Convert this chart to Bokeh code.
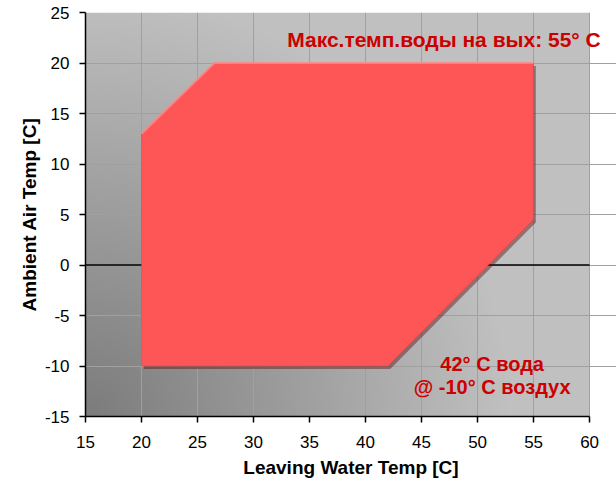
import numpy as np
from bokeh.plotting import figure
from bokeh.models import Label, Range1d, FixedTicker
from bokeh.embed import file_html
from bokeh.resources import INLINE

# ---- data ----
x_min, x_max = 15, 60
y_min, y_max = -15, 25
x_ticks = [15, 20, 25, 30, 35, 40, 45, 50, 55, 60]
y_ticks = [-15, -10, -5, 0, 5, 10, 15, 20, 25]

# operating envelope (leaving water temp, ambient air temp)
env_x = [20, 20, 26.5, 55, 55, 42]
env_y = [-10, 13, 20, 20, 4.5, -10]

x_label = "Leaving Water Temp [C]"
y_label = "Ambient Air Temp [C]"
note_top = "Макс.темп.воды на вых: 55° C"
note_bottom_1 = "42° C вода"
note_bottom_2 = "@ -10° C воздух"

FONT = "Liberation Sans"
RED = "#cc0000"

# extra room right of x=60 so the top note is not clipped by the frame
x_view_max = x_max + 2.4

p = figure(width=616, height=486, output_backend="svg", toolbar_location=None,
           x_range=Range1d(x_min, x_view_max), y_range=Range1d(y_min, y_max),
           min_border_left=85, min_border_right=0, min_border_top=12,
           min_border_bottom=70)
p.background_fill_color = "white"
p.border_fill_color = "white"
p.outline_line_color = None

# gradient background (radial, dark at bottom-left corner)
W, H = 504, 404
yy, xx = np.mgrid[0:H, 0:W]
r = np.sqrt(xx.astype(float) ** 2 + yy.astype(float) ** 2)
t = np.clip(r / 420.0, 0, 1)
g = (124 + (192 - 124) * t).astype(np.uint32)
img = ((255 << 24) | (g << 16) | (g << 8) | g).astype(np.uint32)
bg = p.image_rgba(image=[img], x=x_min, y=y_min, dw=x_max - x_min, dh=y_max - y_min)
bg.level = "image"

# grid
p.xgrid.ticker = FixedTicker(ticks=x_ticks)
p.ygrid.ticker = FixedTicker(ticks=y_ticks)
p.grid.grid_line_color = "#a0a0a0"
p.grid.grid_line_width = 1
p.xgrid.bounds = (y_min, y_max)
p.ygrid.bounds = (x_min, x_max)

# zero line (under envelope)
p.line([x_min, x_max], [0, 0], line_color="black", line_width=1.6)

# envelope shadow, fill, highlight
p.patch([v + 0.2 for v in env_x], [v - 0.3 for v in env_y],
        fill_color="#5a1010", fill_alpha=0.45, line_color=None)
p.patch(env_x, env_y, fill_color="#fe5656", line_color="#d84444", line_width=1, line_alpha=0.5)
p.line(env_x[1:4], env_y[1:4], line_color="#ff8c8c", line_width=2, line_alpha=0.8)

# axes
for ax in (p.xaxis, p.yaxis):
    ax.axis_line_color = "black"
    ax.axis_line_width = 1.5
    ax.major_tick_line_color = "black"
    ax.major_tick_line_width = 1.5
    ax.major_tick_out = 6
    ax.major_tick_in = 0
    ax.minor_tick_line_color = None
    ax.major_label_text_font = FONT
    ax.major_label_text_font_size = "17px"
    ax.major_label_text_color = "black"
    ax.axis_label_text_font = FONT
    ax.axis_label_text_font_size = "19px"
    ax.axis_label_text_font_style = "bold"
    ax.axis_label_text_color = "black"

p.xaxis.ticker = FixedTicker(ticks=x_ticks)
p.yaxis.ticker = FixedTicker(ticks=y_ticks)
p.xaxis.bounds = (x_min, x_max)
p.xaxis.major_label_overrides = {t: str(t) for t in x_ticks}
p.yaxis.major_label_overrides = {t: str(t) for t in y_ticks}
p.xaxis.axis_label = x_label
p.yaxis.axis_label = y_label
p.xaxis.major_label_standoff = 13
p.xaxis.axis_label_standoff = 6
p.yaxis.major_label_standoff = 10
p.yaxis.axis_label_standoff = 2

# annotations
p.add_layout(Label(x=47.0, y=22.3, text=note_top, text_align="center", text_baseline="middle",
                   text_font=FONT, text_font_size="21px", text_font_style="bold", text_color=RED))
p.add_layout(Label(x=51.3, y=-9.8, text=note_bottom_1, text_align="center", text_baseline="middle",
                   text_font=FONT, text_font_size="20px", text_font_style="bold", text_color=RED))
p.add_layout(Label(x=51.3, y=-12.1, text=note_bottom_2, text_align="center", text_baseline="middle",
                   text_font=FONT, text_font_size="20px", text_font_style="bold", text_color=RED))

open("out.html", "w").write(file_html(p, INLINE))
